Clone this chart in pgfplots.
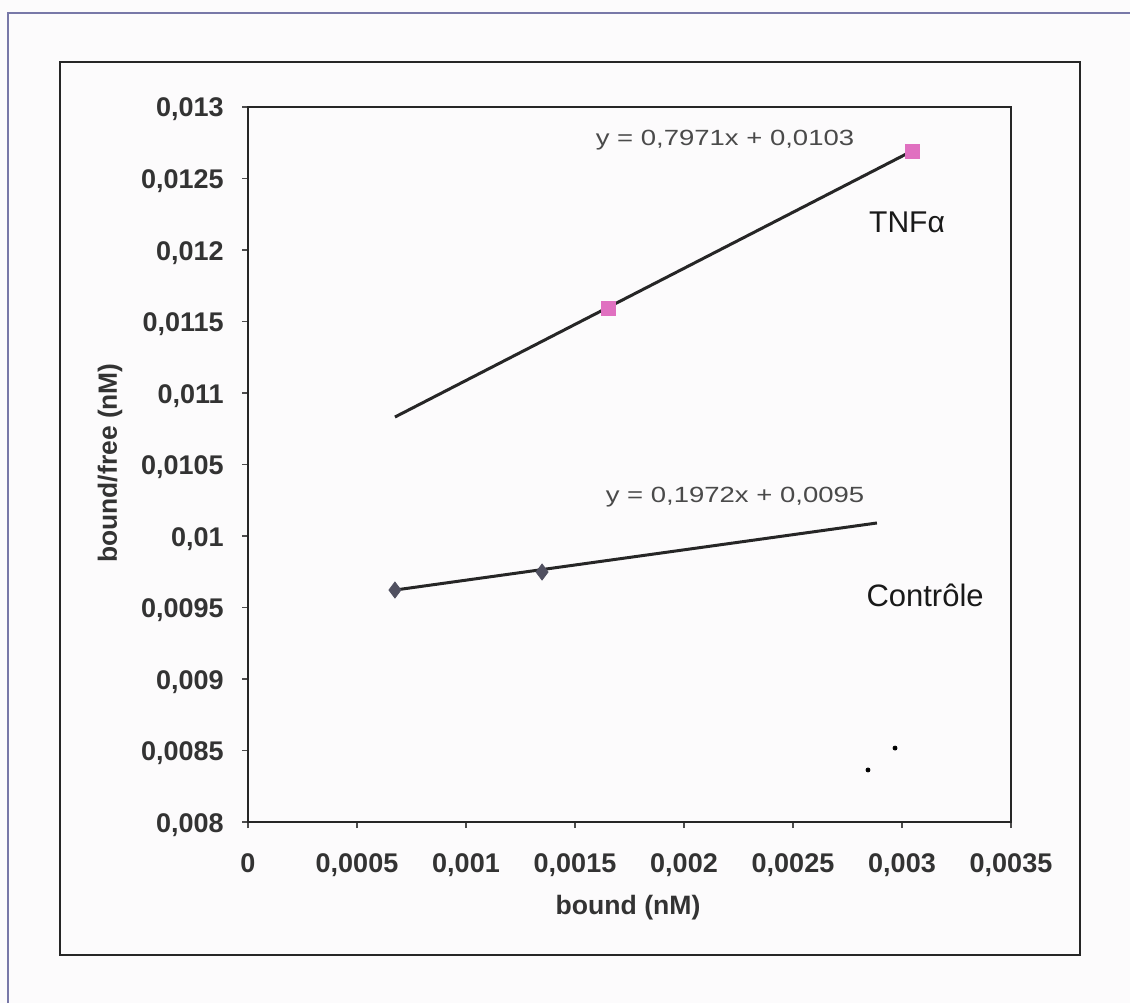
\documentclass[border=0pt]{standalone}
\usepackage{pgfplots}
\pgfplotsset{compat=1.18}
\usepackage{fontspec}
\setmainfont{Liberation Sans}
\definecolor{tnfpink}{HTML}{E070C0}
\definecolor{ctrlgray}{HTML}{505060}
\definecolor{framecol}{HTML}{7878A8}
\definecolor{eqgray}{HTML}{4A4A4A}
\definecolor{bgcol}{HTML}{FCFBFC}
\begin{document}
\begin{tikzpicture}[x=1pt,y=1pt]
\path[use as bounding box, fill=bgcol] (0,0) rectangle (565,501.5);
\draw[framecol, line width=1pt] (4,0) -- (4,495) -- (565,495);
\draw[black!85, line width=1.3pt] (30,24) rectangle (540,470.5);
\begin{axis}[
  at={(124pt,90.5pt)}, anchor=south west,
  scale only axis, width=381.5pt, height=357.5pt,
  xmin=0, xmax=0.0035, ymin=0.008, ymax=0.013,
  xtick={0,0.0005,0.001,0.0015,0.002,0.0025,0.003,0.0035},
  xticklabels={0,{0,0005},{0,001},{0,0015},{0,002},{0,0025},{0,003},{0,0035}},
  ytick={0.008,0.0085,0.009,0.0095,0.01,0.0105,0.011,0.0115,0.012,0.0125,0.013},
  yticklabels={{0,008},{0,0085},{0,009},{0,0095},{0,01},{0,0105},{0,011},{0,0115},{0,012},{0,0125},{0,013}},
  scaled ticks=false,
  tick align=outside, major tick length=3pt,
  xtick pos=bottom, ytick pos=left,
  axis line style={black!85, line width=1pt},
  tick style={black!70, line width=0.6pt},
  ticklabel style={font=\fontsize{13.5}{16}\selectfont\bfseries, text=black!80},
  xticklabel style={anchor=base, yshift=-22pt},
  yticklabel style={anchor=base east, inner sep=0pt, xshift=-9pt, yshift=-5pt},
  clip=false,
]
% TNF alpha data points
\addplot[only marks, mark=square*, mark size=3.5pt, mark options={fill=tnfpink, draw=tnfpink}]
  coordinates {(0.001651,0.011594) (0.003046,0.012692)};
% Controle data points
\addplot[only marks, mark=diamond*, mark size=4pt, mark options={fill=ctrlgray, draw=ctrlgray}]
  coordinates {(0.000674,0.009622) (0.001349,0.009748)};
% trend lines
\addplot[black!85, line width=1.5pt] coordinates {(0.000674,0.010832) (0.003046,0.012692)};
\addplot[black!85, line width=1.5pt] coordinates {(0.000674,0.009622) (0.002885,0.010091)};
% stray dots
\addplot[only marks, mark=*, mark size=1pt, black] coordinates {(0.002844,0.008364) (0.002968,0.008517)};
% annotations
\node[font=\fontsize{11}{13}\selectfont, xscale=1.25, text=eqgray] at (axis cs:0.002188,0.012769) {y = 0,7971x + 0,0103};
\node[font=\fontsize{11}{13}\selectfont, xscale=1.25, text=eqgray] at (axis cs:0.002234,0.010273) {y = 0,1972x + 0,0095};
\node[font=\fontsize{15}{18}\selectfont, text=black!90] at (axis cs:0.003023,0.012196) {TNFα};
\node[font=\fontsize{15.5}{18}\selectfont, text=black!90] at (axis cs:0.003106,0.009587) {Contrôle};
\end{axis}
\node[font=\fontsize{13.3}{16}\selectfont\bfseries, text=black!80] at (314,47.5) {bound (nM)};
\node[font=\fontsize{13.2}{16}\selectfont\bfseries, text=black!80, rotate=90] at (55,270) {bound/free (nM)};
\end{tikzpicture}
\end{document}
